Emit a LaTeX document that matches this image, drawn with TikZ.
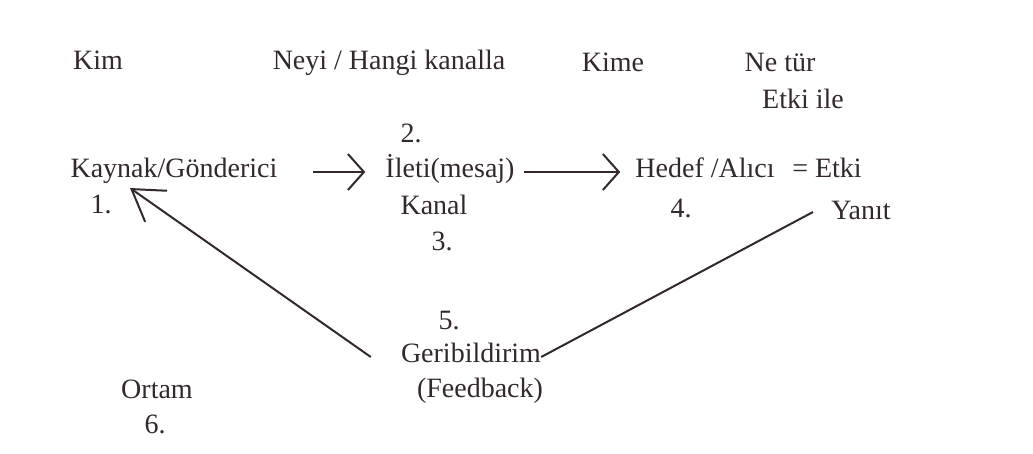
\documentclass[tikz,border=0pt]{standalone}
\usepackage{fontspec}
\setmainfont{Liberation Serif}
\usetikzlibrary{arrows.meta,positioning,calc}
\definecolor{murekkep}{RGB}{50,40,46}

\begin{document}
\begin{tikzpicture}[x=1pt,y=-1pt,
  every node/.append style={anchor=base,inner sep=0pt,text height=17pt,text depth=7pt,
    text=murekkep,font=\fontsize{28}{32}\selectfont},
  ok/.style={draw=murekkep,line width=2pt,-{Straight Barb[length=16pt,width=36pt,line width=2pt]}},
  geriok/.style={draw=murekkep,line width=2pt,-{Straight Barb[length=30pt,width=38pt,line width=2pt]}},
  cizgi/.style={draw=murekkep,line width=2pt}]
\useasboundingbox (0,0) rectangle (1033,453);
% sorular
\node (kim) at (98,69) {Kim};
\node (neyi) at (389,69) {Neyi / Hangi kanalla};
\node (kime) at (613,71) {Kime};
\node (netur) at (780,71) {Ne tür};
\node (etkiile) at (803,108) {Etki ile};
% ana satir
\node (iki) at (411,142) {2.};
\node (kaynak) at (174,177) {Kaynak/Gönderici};
\node (ileti) at (450,177) {İleti(mesaj)};
\node (hedef) at (705,177) {Hedef /Alıcı};
\node (etki) at (827,177) {= Etki};
\node (bir) at (101,213) {1.};
\node (kanal) at (434,214) {Kanal};
\node (dort) at (681,217) {4.};
\node (yanit) at (861,219) {Yanıt};
\node (uc) at (442,250) {3.};
% geribildirim
\node (bes) at (449,329) {5.};
\node (geri) at (471,362) {Geribildirim};
\node (feedback) at (480,397) {(Feedback)};
\node (ortam) at (157,398) {Ortam};
\node (alti) at (155,433) {6.};
\draw[ok,shorten <=35pt,shorten >=20pt] (kaynak.east) -- (ileti.west);
\draw[ok,shorten <=9pt,shorten >=15pt] (ileti.east) -- (hedef.west);
\coordinate (kok) at (130,188);
\coordinate (yanitucu) at (813,212);
\draw[geriok] ([xshift=-30pt]geri.west) -- (kok);
\draw[cizgi] (geri.east) -- (yanitucu);
\end{tikzpicture}
\end{document}
